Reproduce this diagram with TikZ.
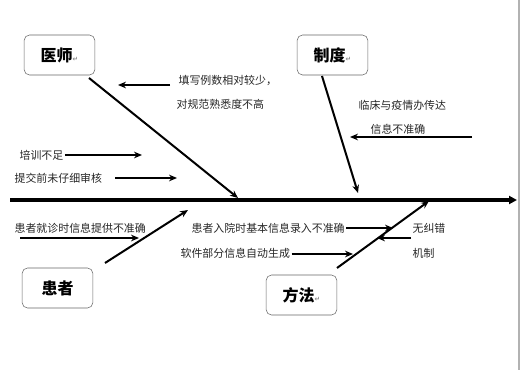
\documentclass[tikz,border=0pt]{standalone}
\usepackage{fontspec}
\usepackage{tikz}
\usetikzlibrary{arrows.meta, positioning, calc}
\newfontfamily\cjk{Noto Sans CJK SC}
\newfontfamily\sym{DejaVu Sans}
\newcommand{\pmark}{{\sym\fontsize{5}{5}\selectfont\color{black!45}↵}}
\tikzset{
    catbox/.style={rectangle, draw=black!60, fill=white, rounded corners=4pt, minimum width=53pt, minimum height=30pt, font=\cjk\bfseries\fontsize{12}{14}\selectfont},
    causetext/.style={anchor=west, inner sep=1pt, text=black!85, font=\cjk\fontsize{8.2}{10}\selectfont},
    spine/.style={-{Triangle[length=6pt, width=6pt]}, line width=2.3pt, draw=black},
    bone/.style={-{Stealth[length=6pt, width=5pt]}, line width=1.5pt, draw=black},
    smallarrow/.style={-{Stealth[length=6pt, width=5pt]}, line width=1.6pt, draw=black}
}
\begin{document}
\begin{tikzpicture}[x=0.75pt, y=-0.75pt]
    \useasboundingbox (0,0) rectangle (520,370);
    \draw[black!30, line width=0.8pt] (519,0) -- (519,370);

    % category boxes
    \node[catbox] (doc) at (59.5,55) {医师\pmark};
    \node[catbox] (rule) at (332.5,55) {制度\pmark};
    \node[catbox] (pat) at (57.5,288) {患者};
    \node[catbox] (meth) at (301.5,295) {方法\pmark};

    % spine
    \coordinate (tail) at (10,200);
    \coordinate (head) at (517,200);
    \draw[spine] (tail) -- (head);

    % main bones
    \coordinate (docS) at (89,78);
    \coordinate (docE) at (238,198);
    \coordinate (ruleS) at (322,76);
    \coordinate (ruleE) at (358,193);
    \coordinate (patS) at (105,263);
    \coordinate (patE) at (188,210);
    \coordinate (methS) at (337,268);
    \coordinate (methE) at (429,201);
    \draw[bone] (docS) -- (docE);
    \draw[bone] (ruleS) -- (ruleE);
    \draw[bone] (patS) -- (patE);
    \draw[bone] (methS) -- (methE);

    % causes
    \node[causetext] (c1) at (177,80) {填写例数相对较少，};
    \node[causetext] (c2) at (175,104) {对规范熟悉度不高};
    \node[causetext] (c3) at (18,155) {培训不足};
    \node[causetext] (c4) at (13,178) {提交前未仔细审核};
    \node[causetext] (c5) at (357,105) {临床与疫情办传达};
    \node[causetext] (c6) at (369,129) {信息不准确};
    \node[causetext] (c7) at (13,228) {患者就诊时信息提供不准确};
    \node[causetext] (c8) at (190,228) {患者入院时基本信息录入不准确};
    \node[causetext] (c9) at (179,253) {软件部分信息自动生成};
    \node[causetext] (c10) at (411,228) {无纠错};
    \node[causetext] (c11) at (411,253) {机制};

    % cause arrows
    \coordinate (a1s) at (170,85);
    \coordinate (a1e) at (118,85);
    \coordinate (a3e) at (142,155);
    \coordinate (a4s) at (115,178);
    \coordinate (a4e) at (177,178);
    \coordinate (a5s) at (472,137);
    \coordinate (a5e) at (350,137);
    \coordinate (a7s) at (20,238);
    \coordinate (a7e) at (139,238);
    \coordinate (a8e) at (393,228);
    \coordinate (a9e) at (353,254);
    \coordinate (a10e) at (377,238);
    \draw[smallarrow] (a1s) -- (a1e);
    \draw[smallarrow] (c3.east) -- (a3e);
    \draw[smallarrow] (a4s) -- (a4e);
    \draw[smallarrow] (a5s) -- (a5e);
    \draw[smallarrow] (a7s) -- (a7e);
    \draw[smallarrow] (c8.east) -- (a8e);
    \draw[smallarrow] (c9.east |- a9e) -- (a9e);
    \draw[smallarrow] (c10.west |- a10e) -- (a10e);
\end{tikzpicture}
\end{document}
